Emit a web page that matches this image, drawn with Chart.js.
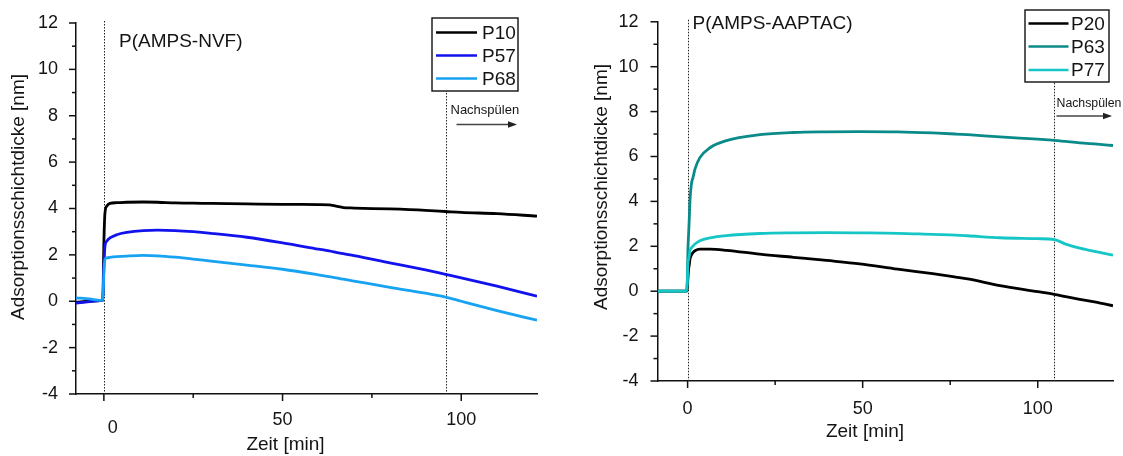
<!DOCTYPE html>
<html><head><meta charset="utf-8">
<script src="https://cdn.jsdelivr.net/npm/chart.js@4/dist/chart.umd.min.js"></script>
<style>
html,body{margin:0;padding:0;background:#fff;}
#wrap{position:relative;width:1123px;height:456px;overflow:hidden;}
.pane{position:absolute;top:0;height:456px;}
</style></head><body>
<div id="wrap">
<div class="pane" style="left:0;width:560px"><canvas id="c1" width="560" height="456"></canvas></div>
<div class="pane" style="left:560px;width:563px"><canvas id="c2" width="563" height="456"></canvas></div>
</div>
<script>
// ---------- data ----------
const timeNVF = [-7.8, -4, -1, -0.3, 0, 0.3, 0.8, 1.7, 3.6, 6.4, 11, 15, 20, 25, 30, 40, 50, 60, 63, 65, 67, 70, 80, 90, 95.6, 100, 110, 121.2];
const p10 = [-0.05, 0.0, 0.03, 0.05, 2.5, 3.8, 4.1, 4.22, 4.25, 4.27, 4.28, 4.27, 4.24, 4.23, 4.22, 4.2, 4.18, 4.17, 4.16, 4.1, 4.04, 4.02, 3.98, 3.92, 3.87, 3.83, 3.78, 3.67];
const p57 = [-0.08, -0.02, 0.03, 0.05, 1.5, 2.37, 2.59, 2.73, 2.87, 2.97, 3.05, 3.07, 3.05, 3.0, 2.93, 2.76, 2.52, 2.25, 2.17, 2.11, 2.05, 1.97, 1.66, 1.35, 1.16, 1.01, 0.65, 0.22];
const p68 = [0.15, 0.1, 0.04, 0.05, 1.2, 1.80, 1.87, 1.89, 1.92, 1.95, 1.98, 1.96, 1.9, 1.82, 1.73, 1.56, 1.38, 1.14, 1.06, 1.01, 0.95, 0.87, 0.6, 0.35, 0.18, 0.0, -0.4, -0.82];

const timeAAPTAC = [-8.6, -4, -0.4, -0.1, 0.1, 0.3, 0.5, 0.67, 1.1, 1.6, 2.1, 3.5, 6.4, 11.1, 20.6, 30.2, 39.7, 49.2, 60, 70, 76.6, 80, 89.2, 100, 104.7, 108, 112, 117, 121.5];
const p20 = [0, 0, 0, 0.1, 0.6, 1.0, 1.2, 1.43, 1.62, 1.73, 1.8, 1.87, 1.87, 1.82, 1.65, 1.51, 1.37, 1.22, 0.98, 0.78, 0.63, 0.55, 0.25, -0.02, -0.14, -0.24, -0.36, -0.5, -0.65];
const p63 = [0, 0, 0, 0.4, 1.87, 2.6, 3.33, 4.03, 4.79, 5.1, 5.44, 5.95, 6.39, 6.71, 6.97, 7.07, 7.1, 7.11, 7.1, 7.05, 7.0, 6.97, 6.87, 6.77, 6.72, 6.67, 6.61, 6.55, 6.49];
const p77 = [0, 0, 0, 0.4, 1.25, 1.43, 1.6, 1.8, 1.93, 2.02, 2.1, 2.25, 2.38, 2.48, 2.57, 2.6, 2.61, 2.6, 2.58, 2.53, 2.5, 2.47, 2.38, 2.34, 2.3, 2.1, 1.92, 1.75, 1.61];

const rinseNVF = 95.6;      // start of "Nachspülen" (min)
const rinseAAPTAC = 104.7;

const xMajorTicks = [0, 50, 100];
const xMinorTicks = [25, 75];
const yMajorTicks = [-4, -2, 0, 2, 4, 6, 8, 10, 12];
const yMinorTicks = [-3, -1, 1, 3, 5, 7, 9, 11];

const xTitle = 'Zeit [min]';
const yTitle = 'Adsorptionsschichtdicke [nm]';
const rinseLabel = 'Nachspülen';
// ---------------------------------------------------

const FONT = "'Liberation Sans', Arial, sans-serif";
const TXT = '#141414';

function makeDeco(g) {
  return {
    id: 'deco',
    beforeDatasetsDraw(chart) {
      const ctx = chart.ctx, xs = chart.scales.x, ca = chart.chartArea;
      ctx.save();
      ctx.strokeStyle = '#222';
      ctx.lineWidth = 1;
      ctx.setLineDash([1.5, 1.5]);
      [0, g.rinse].forEach(v => {
        const px = Math.round(xs.getPixelForValue(v)) + 0.5;
        ctx.beginPath(); ctx.moveTo(px, ca.top - 2); ctx.lineTo(px, ca.bottom); ctx.stroke();
      });
      ctx.restore();
    },
    afterDraw(chart) {
      const ctx = chart.ctx, xs = chart.scales.x, ys = chart.scales.y, ca = chart.chartArea;
      ctx.save();
      // tick marks (outward)
      ctx.strokeStyle = '#111';
      ctx.lineWidth = 1.5;
      const tick = (x1, y1, x2, y2) => { ctx.beginPath(); ctx.moveTo(x1, y1); ctx.lineTo(x2, y2); ctx.stroke(); };
      xMajorTicks.forEach(v => { const p = xs.getPixelForValue(v); tick(p, ca.bottom, p, ca.bottom + 7); });
      xMinorTicks.forEach(v => { const p = xs.getPixelForValue(v); tick(p, ca.bottom, p, ca.bottom + 4); });
      yMajorTicks.forEach(v => { const p = ys.getPixelForValue(v); tick(ca.left, p, ca.left - 7, p); });
      yMinorTicks.forEach(v => { const p = ys.getPixelForValue(v); tick(ca.left, p, ca.left - 4, p); });

      ctx.fillStyle = TXT;
      // displaced zero label (left panel)
      if (g.zeroLabel) {
        ctx.font = '18px ' + FONT;
        ctx.textAlign = 'center'; ctx.textBaseline = 'middle';
        ctx.fillText('0', xs.getPixelForValue(0) + g.zeroLabel.dx, g.zeroLabel.y);
      }
      // axis titles
      ctx.font = '19px ' + FONT;
      ctx.textAlign = 'center'; ctx.textBaseline = 'middle';
      ctx.fillText(xTitle, g.xTitle.x, g.xTitle.y);
      ctx.save();
      ctx.translate(g.yTitle.x, g.yTitle.y); ctx.rotate(-Math.PI / 2);
      ctx.fillText(yTitle, 0, 0);
      ctx.restore();
      // panel title
      ctx.textAlign = 'left';
      ctx.fillText(g.title, g.titlePos.x, g.titlePos.y);
      // Nachspülen
      ctx.font = g.nach.size + 'px ' + FONT;
      ctx.fillText(rinseLabel, g.nach.x, g.nach.y);
      ctx.strokeStyle = '#444'; ctx.fillStyle = '#222'; ctx.lineWidth = 1.3;
      tick(g.arrow.x1, g.arrow.y, g.arrow.x2 - 6, g.arrow.y);
      ctx.beginPath();
      ctx.moveTo(g.arrow.x2, g.arrow.y);
      ctx.lineTo(g.arrow.x2 - 9, g.arrow.y - 3.2);
      ctx.lineTo(g.arrow.x2 - 9, g.arrow.y + 3.2);
      ctx.closePath(); ctx.fill();
      // legend box
      const L = g.legend;
      ctx.fillStyle = '#fff';
      ctx.fillRect(L.x, L.y, L.w, L.h);
      ctx.strokeStyle = '#111'; ctx.lineWidth = 1.4;
      ctx.strokeRect(L.x, L.y, L.w, L.h);
      ctx.font = '19px ' + FONT;
      ctx.textBaseline = 'middle'; ctx.textAlign = 'left';
      chart.data.datasets.forEach((ds, i) => {
        const y = L.rows[i];
        ctx.strokeStyle = ds.borderColor; ctx.lineWidth = 2.4;
        tick(L.lx1, y, L.lx2, y);
        ctx.fillStyle = TXT;
        ctx.fillText(ds.label, L.tx, y + 1);
      });
      ctx.restore();
    }
  };
}

function makeChart(id, W, H, times, series, g) {
  const XAXH = 55;
  return new Chart(document.getElementById(id), {
    type: 'line',
    data: {
      datasets: series.map((s, i) => ({
        label: s.label,
        data: times.map((t, k) => ({ x: t, y: s.values[k] })),
        borderColor: s.color,
        borderWidth: 2.8,
        pointRadius: 0,
        fill: false,
        cubicInterpolationMode: 'monotone',
        order: series.length - i
      }))
    },
    options: {
      responsive: false,
      animation: false,
      events: [],
      devicePixelRatio: 1,
      layout: { padding: { left: 0, top: g.area.top, right: W - g.area.right, bottom: H - g.area.bottom - XAXH } },
      plugins: { legend: { display: false }, tooltip: { enabled: false } },
      scales: {
        x: {
          type: 'linear', min: g.xMin, max: g.xMax,
          afterBuildTicks: s => { s.ticks = xMajorTicks.map(v => ({ value: v })); },
          afterFit: s => { s.height = XAXH; },
          grid: { display: false },
          border: { display: true, color: '#111', width: 1.5 },
          ticks: {
            padding: g.xPad, color: TXT, font: { family: FONT, size: 18 }, maxRotation: 0,
            callback: v => (g.zeroLabel && v === 0) ? '' : String(v)
          }
        },
        y: {
          type: 'linear', min: -4, max: 12,
          afterBuildTicks: s => { s.ticks = yMajorTicks.map(v => ({ value: v })); },
          afterFit: s => { s.width = g.area.left; },
          grid: { display: false },
          border: { display: true, color: '#111', width: 1.5 },
          ticks: { padding: g.yPad, color: TXT, font: { family: FONT, size: 18 } }
        }
      }
    },
    plugins: [makeDeco(g)]
  });
}

makeChart('c1', 560, 456, timeNVF, [
  { label: 'P10', values: p10, color: '#000000' },
  { label: 'P57', values: p57, color: '#1212ee' },
  { label: 'P68', values: p68, color: '#18a2f2' }
], {
  area: { left: 76, right: 537, top: 23, bottom: 394 },
  xMin: -7.8, xMax: 121.2, rinse: rinseNVF,
  xPad: 7, yPad: 10,
  zeroLabel: { dx: 9, y: 428 },
  title: 'P(AMPS-NVF)', titlePos: { x: 119, y: 42 },
  xTitle: { x: 285.5, y: 445 }, yTitle: { x: 19, y: 197 },
  nach: { x: 450.5, y: 110.5, size: 13 }, arrow: { x1: 456.5, x2: 517, y: 124.5 },
  legend: { x: 432, y: 18, w: 86, h: 73, lx1: 436, lx2: 477, tx: 482, rows: [32.5, 55.5, 78.5] }
});

makeChart('c2', 563, 456, timeAAPTAC, [
  { label: 'P20', values: p20, color: '#000000' },
  { label: 'P63', values: p63, color: '#0b8a8a' },
  { label: 'P77', values: p77, color: '#16c6c6' }
], {
  area: { left: 97.5, right: 553, top: 15, bottom: 381 },
  xMin: -8.6, xMax: 121.5, rinse: rinseAAPTAC,
  xPad: 9, yPad: 11,
  zeroLabel: null,
  title: 'P(AMPS-AAPTAC)', titlePos: { x: 132.5, y: 24 },
  xTitle: { x: 305, y: 432 }, yTitle: { x: 42, y: 187 },
  nach: { x: 496.5, y: 104, size: 12.3 }, arrow: { x1: 496.5, x2: 552, y: 116 },
  legend: { x: 465, y: 10, w: 84, h: 72, lx1: 468.5, lx2: 508.5, tx: 511, rows: [23.5, 46.5, 70] }
});
</script>
</body></html>
